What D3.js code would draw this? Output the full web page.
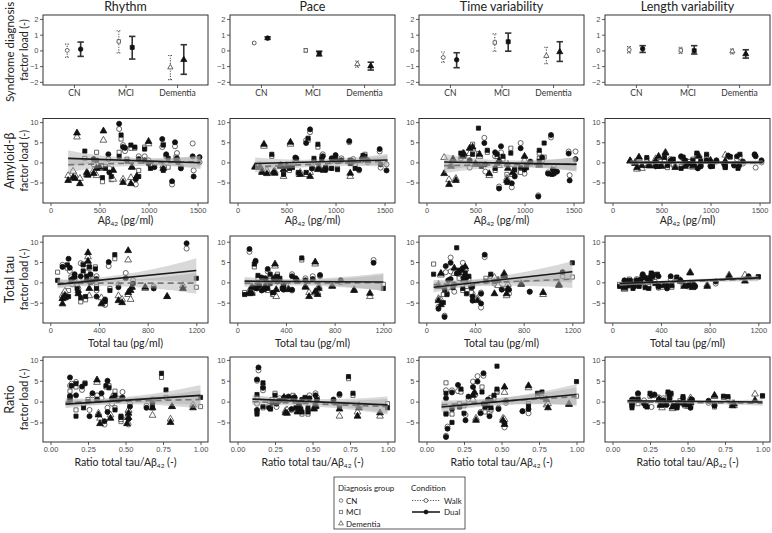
<!DOCTYPE html>
<html><head><meta charset="utf-8">
<script src="https://cdn.jsdelivr.net/npm/d3@7"></script>
<style>body{margin:0;background:#fff}svg{display:block}</style>
</head><body>
<svg id="c" width="772" height="533"></svg>
<script>
// ---------------- DATA ----------------
const domains = ["Rhythm", "Pace", "Time variability", "Length variability"];
const groups = ["CN", "MCI", "Dementia"];
const conditions = ["Walk", "Dual"];
const rowLabels = ["Syndrome diagnosis", "Amyloid-β", "Total tau", "Ratio"];

// Row 1: syndrome diagnosis means and intervals, [domain][group]
const diagWalkMean = [[0.0, 0.57, -1.08], [0.47, 0.0, -0.87], [-0.45, 0.5, -0.35], [0.04, 0.0, -0.06]];
const diagWalkLo   = [[-0.44, -0.17, -1.86], [0.41, -0.12, -1.07], [-0.75, -0.05, -0.85], [-0.16, -0.2, -0.23]];
const diagWalkHi   = [[0.4, 1.25, -0.32], [0.53, 0.12, -0.67], [-0.1, 1.05, 0.2], [0.24, 0.2, 0.08]];
const diagDualMean = [[0.08, 0.19, -0.59], [0.78, -0.2, -1.0], [-0.6, 0.55, -0.1], [0.1, -0.02, -0.23]];
const diagDualLo   = [[-0.38, -0.55, -1.52], [0.7, -0.35, -1.25], [-1.1, -0.05, -0.7], [-0.13, -0.23, -0.49]];
const diagDualHi   = [[0.53, 0.89, 0.36], [0.86, -0.05, -0.75], [-0.15, 1.1, 0.55], [0.3, 0.3, 0.04]];

// Participants (CN, MCI, Dementia)
const patientGroup = [
  "CN","CN","CN","CN","CN","CN","CN","CN","CN","CN","CN","CN","CN","CN","CN","CN","CN","CN","CN","CN",
  "MCI","MCI","MCI","MCI","MCI","MCI","MCI","MCI","MCI","MCI","MCI","MCI","MCI","MCI","MCI","MCI","MCI","MCI",
  "Dementia","Dementia","Dementia","Dementia","Dementia","Dementia","Dementia","Dementia","Dementia","Dementia","Dementia","Dementia","Dementia","Dementia","Dementia","Dementia","Dementia","Dementia"];
const abeta = [700,740,1140,1270,1450,1460,1240,1520,870,760,590,960,1060,1290,600,900,1180,1330,440,1000,
  720,350,530,820,1150,620,860,960,1200,470,1280,560,1020,700,1150,1300,900,780,
  180,250,270,370,540,380,470,500,640,740,820,830,880,1150,230,1000,300,440];
const totalTau = [1120,100,150,480,250,380,450,200,450,160,200,300,560,620,230,380,330,850,180,680,
  530,270,250,140,270,290,320,370,1200,60,170,380,220,300,490,330,150,350,
  560,100,310,640,640,120,320,780,660,590,420,670,960,1090,120,310,100,230];
const ratio = [null,0.14,0.13,0.38,0.17,0.26,0.36,0.13,0.52,0.21,0.34,0.31,0.53,0.48,0.38,0.42,0.28,0.64,0.41,0.68,
  0.74,0.77,0.47,0.17,0.23,0.47,0.37,0.39,1.00,0.13,0.13,0.68,0.22,0.43,0.43,0.25,0.17,0.45,
  null,0.40,null,null,null,0.32,0.68,null,null,0.80,0.51,0.81,null,0.95,0.52,0.31,0.33,0.52];
const rhythmDual = [9.6,3.8,5.8,5.0,1.5,-3.5,-4.7,1.3,-4.2,3.6,2.0,0.5,-1.2,1.0,-2.5,0.8,2.0,-1.5,0.8,-0.3,
  6.8,2.8,-3.8,4.3,4.3,-3.5,3.8,3.3,1.0,0.5,0.5,-1.5,-1.5,1.5,-2.0,0.0,-3.5,0.3,
  -4.5,-4.0,7.3,-2.5,7.8,-3.2,-1.5,-1.2,-2.0,-5.0,-5.3,-1.2,-3.5,-1.5,-3.8,5.2,-5.3,-2.8];
const rhythmWalk = [8.3,4.3,3.8,4.0,4.7,-2.0,-5.5,0.0,-5.5,2.8,0.8,1.5,-0.5,2.3,-1.5,1.5,1.5,-1.0,-0.5,0.5,
  5.8,1.0,-4.8,3.5,4.5,-4.3,3.5,3.8,-1.2,2.5,1.3,-1.0,-0.8,2.5,-1.5,0.5,-2.0,0.8,
  -3.3,-3.2,6.3,-3.0,5.5,-2.8,-3.3,-1.5,-4.2,-4.2,-3.8,-1.2,-3.5,-0.8,-2.2,4.6,-4.0,-2.0];
const paceDual = [4.8,8.2,5.3,1.0,3.3,-0.5,-1.8,-2.0,1.5,-1.5,1.2,1.0,0.5,0.8,1.0,-1.8,0.2,0.5,-0.8,1.8,
  6.0,2.0,-1.5,4.5,-0.3,-2.5,0.8,-1.5,-1.5,-3.0,1.7,-1.3,-1.8,-2.5,0.5,1.5,-1.2,1.0,
  -1.2,-2.5,4.5,-2.3,5.0,-2.7,-1.8,-1.0,-3.0,-3.5,-1.8,-1.5,-2.0,-2.7,-1.2,1.0,-2.8,-1.0];
const paceWalk = [5.5,7.5,5.0,0.5,2.7,-1.3,-2.0,-0.5,2.0,-1.0,0.5,0.3,1.0,1.5,0.5,-1.5,0.8,0.0,-0.5,1.5,
  5.5,1.5,-2.0,3.8,0.5,-3.0,1.5,-1.5,-0.5,-2.5,1.0,-1.0,-1.5,-3.0,0.3,2.0,-1.5,0.3,
  -1.0,-2.2,4.0,-2.6,4.5,-2.2,-3.5,-0.8,-2.5,-2.5,-1.5,-1.0,-1.8,-3.5,-1.0,0.5,-2.0,-0.8];
const timeDual = [2.5,-6.5,-8.5,6.8,2.2,-4.5,-2.8,0.8,-5.2,4.0,4.8,3.5,0.2,-1.8,-0.5,-3.5,1.2,-2.3,0.5,-1.8,
  2.0,2.3,8.5,-5.0,3.0,3.0,2.3,-1.3,4.8,2.0,-3.0,-1.0,-1.3,-1.5,0.3,-2.8,-1.8,1.5,
  -2.8,-1.0,0.8,1.5,2.0,2.2,3.8,-0.5,-2.8,0.5,-4.5,-1.5,-2.5,-0.7,-5.5,1.5,-4.5,3.5];
const timeWalk = [1.5,-6.0,-8.2,6.2,2.7,-3.2,-2.5,2.7,-6.2,2.5,6.1,4.8,-0.3,-1.5,-2.3,-2.8,0.5,-2.3,-1.3,-2.8,
  1.5,1.0,2.2,-3.0,2.3,2.5,3.5,-2.5,1.3,4.5,-2.8,-0.5,-0.5,-2.0,1.0,-1.0,-1.5,0.8,
  1.2,-0.5,0.5,2.2,1.5,1.8,3.3,-0.3,-3.3,-0.8,-4.0,-0.5,-3.0,-0.5,-4.3,0.5,-4.0,2.2];
const lengthDual = [1.5,0.5,-0.5,1.5,2.0,1.5,-0.8,0.5,-1.5,-0.5,0.3,0.5,0.5,-0.7,0.6,-1.0,1.7,0.2,-1.0,-1.0,
  1.3,1.2,1.2,0.5,-1.3,0.8,2.3,2.0,1.4,-1.0,-1.5,-0.8,-1.0,-1.5,-0.8,2.0,0.3,-0.3,
  0.4,-1.3,1.3,-0.8,2.3,-0.9,1.5,-1.0,-1.3,-1.0,-0.8,-0.5,1.5,0.3,-0.3,0.5,-0.8,0.4];
const lengthWalk = [1.3,0.3,-0.3,0.8,1.8,-1.3,-0.5,0.0,-1.0,0.3,0.8,1.0,0.2,-1.0,-0.3,-0.5,1.5,-0.3,-0.5,-0.8,
  1.0,0.8,0.5,0.8,-1.0,-0.5,1.8,1.6,1.3,-0.5,-0.5,-1.3,-0.8,-1.0,-1.2,1.3,-0.5,0.2,
  0.3,-1.7,1.0,-0.4,2.5,-0.6,1.2,-0.6,-0.9,-0.5,-1.2,-1.0,1.8,1.8,0.0,0.2,-1.5,0.9];

// Fitted lines (y at left/right end of fit range) and CI half-widths [left, middle, right], per domain
const fitRangeAbeta = [180, 1530], fitRangeTau = [60, 1200], fitRangeRatio = [0.1, 1.0];
const fitMidAbeta = 820, fitMidTau = 400, fitMidRatio = 0.38;
const fitDualAbeta = [[1.0, -0.1], [-0.3, 0.6], [0.1, -0.5], [0.0, 0.0]];
const fitWalkAbeta = [[-0.6, 0.2], [-1.1, 0.3], [-0.8, -0.4], [-0.1, -0.1]];
const bandDualAbeta = [[2.0, 0.7, 1.6], [1.5, 0.6, 1.5], [2.0, 0.7, 1.8], [0.5, 0.25, 0.5]];
const bandWalkAbeta = [[1.9, 0.7, 1.5], [1.4, 0.6, 1.4], [1.9, 0.7, 1.7], [0.5, 0.25, 0.5]];
const fitDualTau = [[-0.5, 2.9], [0.3, 0.1], [-1.2, 2.6], [-0.3, 1.1]];
const fitWalkTau = [[-0.2, -0.2], [-0.2, -0.1], [-0.6, 0.8], [-0.5, 0.9]];
const bandDualTau = [[1.0, 0.7, 3.0], [1.0, 0.6, 2.2], [1.3, 0.8, 2.6], [0.4, 0.25, 0.6]];
const bandWalkTau = [[1.0, 0.7, 2.6], [0.9, 0.6, 2.0], [1.2, 0.8, 2.2], [0.4, 0.25, 0.6]];
const fitDualRatio = [[-0.6, 1.5], [0.6, -0.8], [-1.3, 1.7], [0.2, -0.1]];
const fitWalkRatio = [[-0.2, 0.5], [0.0, -1.2], [-0.8, 1.2], [-0.1, -0.4]];
const bandDualRatio = [[1.0, 0.7, 2.5], [1.0, 0.6, 2.0], [1.2, 0.8, 2.5], [0.4, 0.25, 0.6]];
const bandWalkRatio = [[1.0, 0.7, 2.2], [0.9, 0.6, 1.9], [1.1, 0.8, 2.2], [0.4, 0.25, 0.6]];

// Tick values
const yTicksDiag = [-2, -1, 0, 1, 2];
const yTicksLoad = [-5, 0, 5, 10];
const xTicksAbeta = [0, 500, 1000, 1500];
const xTicksTau = [0, 400, 800, 1200];
const xTicksRatio = [0, 0.25, 0.5, 0.75, 1.0];

// ---------------- LAYOUT ----------------
const svg = d3.select("#c");
const colX = [43, 230, 419, 605], panelW = 165;
const rowTop = [15, 118.5, 236, 357], rowBot = [85, 203, 323, 442];
const yDom = [[-2.2, 2.25], [-10.1, 10.9], [-10.0, 11.4], [-9.7, 10.7]];
const TF = "'Liberation Sans', Arial, sans-serif";
const LF = "Lato, 'Open Sans', sans-serif";

const yVals = [[rhythmWalk, rhythmDual], [paceWalk, paceDual], [timeWalk, timeDual], [lengthWalk, lengthDual]];
const rowsX = [null,
  {x: abeta, dom: [-76.5, 1606.5], ticks: xTicksAbeta, fmt: d3.format("d"), range: fitRangeAbeta, mid: fitMidAbeta,
   fd: fitDualAbeta, fw: fitWalkAbeta, bd: bandDualAbeta, bw: bandWalkAbeta, titleDy: 21},
  {x: totalTau, dom: [-60, 1296], ticks: xTicksTau, fmt: d3.format("d"), range: fitRangeTau, mid: fitMidTau,
   fd: fitDualTau, fw: fitWalkTau, bd: bandDualTau, bw: bandWalkTau, titleDy: 23.5},
  {x: ratio, dom: [-0.05, 1.05], ticks: xTicksRatio, fmt: d3.format(".2f"), range: fitRangeRatio, mid: fitMidRatio,
   fd: fitDualRatio, fw: fitWalkRatio, bd: bandDualRatio, bw: bandWalkRatio, titleDy: 24}];

const symType = {CN: d3.symbolCircle, MCI: d3.symbolSquare, Dementia: d3.symbolTriangle};
const symSize = {CN: 20, MCI: 17, Dementia: 20};
function sym(g, size) { return d3.symbol().type(symType[g]).size(size != null ? size : symSize[g])(); }

function styleAxis(g) {
  g.select(".domain").remove();
  g.selectAll(".tick line").attr("stroke", "#333").attr("stroke-width", 0.8);
  g.selectAll(".tick text").attr("fill", "#4d4d4d").attr("font-family", TF).attr("font-size", 7.5);
}

// Column titles
domains.forEach((d, c) => {
  svg.append("text").attr("x", colX[c] + panelW / 2).attr("y", 11).attr("text-anchor", "middle")
    .attr("font-family", LF).attr("font-size", 12.5).attr("fill", "#222").text(d);
});

// Row labels
rowLabels.forEach((lab, r) => {
  const cy = r === 0 ? 52 : (rowTop[r] + rowBot[r]) / 2;
  svg.append("text").attr("transform", `translate(13.5,${cy}) rotate(-90)`).attr("text-anchor", "middle")
    .attr("font-family", LF).attr("font-size", r === 0 ? 11.5 : 12.5).attr("fill", "#222").text(lab);
  svg.append("text").attr("transform", `translate(28,${(rowTop[r] + rowBot[r]) / 2}) rotate(-90)`).attr("text-anchor", "middle")
    .attr("font-family", LF).attr("font-size", 10.5).attr("fill", "#222").text("factor load (-)");
});

// ---- Row 1: syndrome diagnosis ----
{
  const r = 0;
  for (let c = 0; c < 4; c++) {
    const x = d3.scaleLinear().domain([0.4, 3.6]).range([colX[c], colX[c] + panelW]);
    const y = d3.scaleLinear().domain(yDom[r]).range([rowBot[r], rowTop[r]]);
    const g = svg.append("g");
    groups.forEach((grp, i) => {
      const sets = [
        {dx: -0.13, m: diagWalkMean[c][i], lo: diagWalkLo[c][i], hi: diagWalkHi[c][i], walk: true},
        {dx: 0.13, m: diagDualMean[c][i], lo: diagDualLo[c][i], hi: diagDualHi[c][i], walk: false}];
      sets.forEach(s => {
        const px = x(i + 1 + s.dx);
        const col = s.walk ? "#555" : "#333";
        const sw = s.walk ? 1.1 : 1.6;
        const cap = s.walk ? 2.2 : 3.2;
        const da = s.walk ? "1.2,1.4" : null;
        g.append("line").attr("x1", px).attr("x2", px).attr("y1", y(s.lo)).attr("y2", y(s.hi))
          .attr("stroke", col).attr("stroke-width", sw).attr("stroke-dasharray", da);
        [s.lo, s.hi].forEach(v => g.append("line").attr("x1", px - cap).attr("x2", px + cap)
          .attr("y1", y(v)).attr("y2", y(v)).attr("stroke", col).attr("stroke-width", sw).attr("stroke-dasharray", da));
        g.append("path").attr("d", sym(grp, s.walk ? 12 : 16)).attr("transform", `translate(${px},${y(s.m)})`)
          .attr("fill", s.walk ? "#fff" : "#111").attr("stroke", s.walk ? "#444" : "#111").attr("stroke-width", 0.8);
      });
    });
    const ya = svg.append("g").attr("transform", `translate(${colX[c]},0)`)
      .call(d3.axisLeft(y).tickValues(yTicksDiag).tickSize(3).tickPadding(1.5).tickFormat(d3.format("d")));
    styleAxis(ya);
    const xa = svg.append("g").attr("transform", `translate(0,${rowBot[r]})`)
      .call(d3.axisBottom(x).tickValues([1, 2, 3]).tickSize(3).tickPadding(2).tickFormat(d => groups[d - 1]));
    styleAxis(xa);
    xa.selectAll(".tick text").attr("font-family", LF).attr("font-size", 8.5).attr("fill", "#333");
    svg.append("rect").attr("x", colX[c]).attr("y", rowTop[r]).attr("width", panelW).attr("height", rowBot[r] - rowTop[r])
      .attr("fill", "none").attr("stroke", "#333").attr("stroke-width", 1);
  }
}

// ---- Rows 2-4: scatter with fits ----
for (let r = 1; r <= 3; r++) {
  const R = rowsX[r];
  for (let c = 0; c < 4; c++) {
    const x = d3.scaleLinear().domain(R.dom).range([colX[c], colX[c] + panelW]);
    const y = d3.scaleLinear().domain(yDom[r]).range([rowBot[r], rowTop[r]]);
    const g = svg.append("g");
    // points: walk (open) then dual (filled)
    [0, 1].forEach(k => {
      const ys = yVals[c][k];
      R.x.forEach((xv, i) => {
        if (xv == null) return;
        g.append("path").attr("d", sym(patientGroup[i]))
          .attr("transform", `translate(${x(xv)},${y(ys[i])})`)
          .attr("fill", k === 0 ? "#fff" : "#111")
          .attr("stroke", k === 0 ? "#444" : "#111").attr("stroke-width", 0.8);
      });
    });
    // bands and lines
    const fits = [{f: R.fw[c], b: R.bw[c], walk: true}, {f: R.fd[c], b: R.bd[c], walk: false}];
    const hw = (b, xv) => {
      const [x0, x1] = R.range, m = R.mid;
      if (xv <= m) { const t = (m - xv) / (m - x0); return b[1] + (b[0] - b[1]) * t * t; }
      const t = (xv - m) / (x1 - m); return b[1] + (b[2] - b[1]) * t * t;
    };
    const xs = d3.range(0, 41).map(i => R.range[0] + (R.range[1] - R.range[0]) * i / 40);
    fits.forEach(F => {
      const yl = xv => F.f[0] + (F.f[1] - F.f[0]) * (xv - R.range[0]) / (R.range[1] - R.range[0]);
      g.append("path").datum(xs)
        .attr("d", d3.area().x(d => x(d)).y0(d => y(yl(d) - hw(F.b, d))).y1(d => y(yl(d) + hw(F.b, d))))
        .attr("fill", "#aaa").attr("fill-opacity", 0.45);
    });
    fits.forEach(F => {
      g.append("line").attr("x1", x(R.range[0])).attr("x2", x(R.range[1]))
        .attr("y1", y(F.f[0])).attr("y2", y(F.f[1]))
        .attr("stroke", F.walk ? "#777" : "#1a1a1a").attr("stroke-width", 1.6)
        .attr("stroke-dasharray", F.walk ? "6,4" : null);
    });
    const ya = svg.append("g").attr("transform", `translate(${colX[c]},0)`)
      .call(d3.axisLeft(y).tickValues(yTicksLoad).tickSize(3).tickPadding(1.5).tickFormat(d3.format("d")));
    styleAxis(ya);
    const xa = svg.append("g").attr("transform", `translate(0,${rowBot[r]})`)
      .call(d3.axisBottom(x).tickValues(R.ticks).tickSize(3).tickPadding(1.5).tickFormat(R.fmt));
    styleAxis(xa);
    svg.append("rect").attr("x", colX[c]).attr("y", rowTop[r]).attr("width", panelW).attr("height", rowBot[r] - rowTop[r])
      .attr("fill", "none").attr("stroke", "#333").attr("stroke-width", 1);
    // x axis title
    const t = svg.append("text").attr("x", colX[c] + panelW / 2).attr("y", rowBot[r] + R.titleDy)
      .attr("text-anchor", "middle").attr("font-family", LF).attr("font-size", 10.5).attr("fill", "#222");
    if (r === 1) {
      t.append("tspan").text("Aβ");
      t.append("tspan").attr("font-size", 6.5).attr("dy", 2).text("42");
      t.append("tspan").attr("dy", -2).text(" (pg/ml)");
    } else if (r === 2) {
      t.text("Total tau (pg/ml)");
    } else {
      t.append("tspan").text("Ratio total tau/Aβ");
      t.append("tspan").attr("font-size", 6.5).attr("dy", 2).text("42");
      t.append("tspan").attr("dy", -2).text(" (-)");
    }
  }
}

// ---- Legend ----
{
  const lg = svg.append("g");
  lg.append("rect").attr("x", 334).attr("y", 477).attr("width", 131).attr("height", 52)
    .attr("fill", "#fff").attr("stroke", "#333").attr("stroke-width", 0.8);
  const fs = 8;
  lg.append("text").attr("x", 338).attr("y", 491).attr("font-family", LF).attr("font-size", fs).attr("fill", "#222").text("Diagnosis group");
  lg.append("text").attr("x", 411).attr("y", 491).attr("font-family", LF).attr("font-size", fs).attr("fill", "#222").text("Condition");
  groups.forEach((grp, i) => {
    const yy = [500.5, 512, 523.5][i];
    lg.append("path").attr("d", sym(grp, 10)).attr("transform", `translate(341,${yy})`)
      .attr("fill", "#fff").attr("stroke", "#444").attr("stroke-width", 0.7);
    lg.append("text").attr("x", 346).attr("y", yy + 3).attr("font-family", LF).attr("font-size", fs).attr("fill", "#222").text(grp);
  });
  conditions.forEach((cn, i) => {
    const yy = [500.5, 512][i];
    lg.append("line").attr("x1", 412).attr("x2", 440).attr("y1", yy).attr("y2", yy)
      .attr("stroke", i === 0 ? "#555" : "#111").attr("stroke-width", i === 0 ? 1 : 1.5)
      .attr("stroke-dasharray", i === 0 ? "1.2,1.4" : null);
    lg.append("path").attr("d", d3.symbol().type(d3.symbolCircle).size(12)()).attr("transform", `translate(426,${yy})`)
      .attr("fill", i === 0 ? "#fff" : "#111").attr("stroke", i === 0 ? "#444" : "#111").attr("stroke-width", 0.8);
    lg.append("text").attr("x", 444).attr("y", yy + 3).attr("font-family", LF).attr("font-size", fs).attr("fill", "#222").text(cn);
  });
}
</script>
</body></html>
